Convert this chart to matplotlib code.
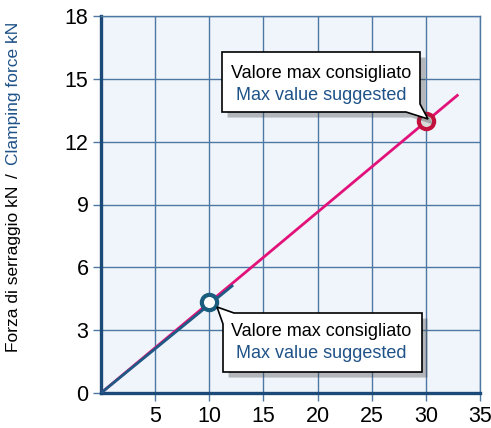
import matplotlib
matplotlib.use("Agg")
from matplotlib import pyplot as plt
from matplotlib.patches import Polygon
import matplotlib.patheffects as pe

# data
line_max_x = [0, 33]
line_max_y = [0, 14.25]
line_std_x = [0, 12.2]
line_std_y = [0, 5.15]
point_max = (30, 13)
point_std = (10, 4.33)
x_ticks = [5, 10, 15, 20, 25, 30, 35]
y_ticks = [0, 3, 6, 9, 12, 15, 18]
label_it = "Valore max consigliato"
label_en = "Max value suggested"

plt.rcParams['font.family'] = ['Liberation Sans', 'DejaVu Sans']

W, H = 491, 428
fig = plt.figure(figsize=(W / 100, H / 100), dpi=100)
ax = fig.add_axes([101 / W, 1 - 393 / H, (480 - 101) / W, (393 - 16) / H])

grid_col = '#4e78a3'
axis_col = '#1b4a78'
blue_txt = '#1f5288'
ax.set_facecolor('#eff5fb')
ax.set_xlim(0, 35)
ax.set_ylim(0, 18)
ax.set_xticks(x_ticks)
ax.set_yticks(y_ticks)
ax.grid(True, color=grid_col, lw=1.0)
ax.set_axisbelow(True)
for s in ['top', 'right']:
    ax.spines[s].set_color(grid_col)
    ax.spines[s].set_linewidth(1.0)
for s in ['left', 'bottom']:
    ax.spines[s].set_color(axis_col)
    ax.spines[s].set_linewidth(2.4)
ax.tick_params(direction='out', length=6, width=1.0, color=grid_col, labelsize=15.5, pad=3)

ax.plot(line_max_x, line_max_y, color='#e2127a', lw=2, solid_capstyle='butt', zorder=3)
ax.plot(line_std_x, line_std_y, color='#1f5a86', lw=2, solid_capstyle='butt', zorder=4)
ax.plot(*point_max, marker='o', ms=11, mfc='#d9d9d9', mec='#c4103c', mew=3, zorder=6)
ax.plot(*point_std, marker='o', ms=11, mfc='white', mec='#1a5d7e', mew=3, zorder=6)

# y label in two colours, chained one after the other
renderer = fig.canvas.get_renderer()
y0 = H - 352
parts = [("Forza di serraggio kN", 'black', 8), ("/", 'black', 8), ("Clamping force kN", blue_txt, 0)]
for txt, col, gap in parts:
    t = fig.text(14 / W, y0 / H, txt, rotation=90, ha='center', va='bottom',
                 fontsize=12.5, color=col)
    ext = t.get_window_extent(renderer)
    y0 = ext.y1 + gap


def callout(pts, cx, y1, y2):
    # pts in image pixels (origin top left)
    p = Polygon([(x, H - y) for x, y in pts], closed=True, transform=None,
                facecolor='white', edgecolor='black', lw=1.2, zorder=10)
    p.set_path_effects([pe.SimplePatchShadow(offset=(4, -4), shadow_rgbFace='#444444', alpha=0.35),
                        pe.Normal()])
    fig.patches.append(p)
    fig.text(cx / W, 1 - y1 / H, label_it, ha='center', va='center', fontsize=13,
             color='black', zorder=11)
    fig.text(cx / W, 1 - y2 / H, label_en, ha='center', va='center', fontsize=13,
             color=blue_txt, zorder=11)


callout([(222, 52), (420, 52), (420, 104), (428, 119), (406, 112), (222, 112)], 321, 73, 95)
callout([(217, 307), (234, 313), (422, 313), (422, 372), (223, 372), (223, 324)], 321, 331, 353)

fig.savefig('out.png', dpi=100)
